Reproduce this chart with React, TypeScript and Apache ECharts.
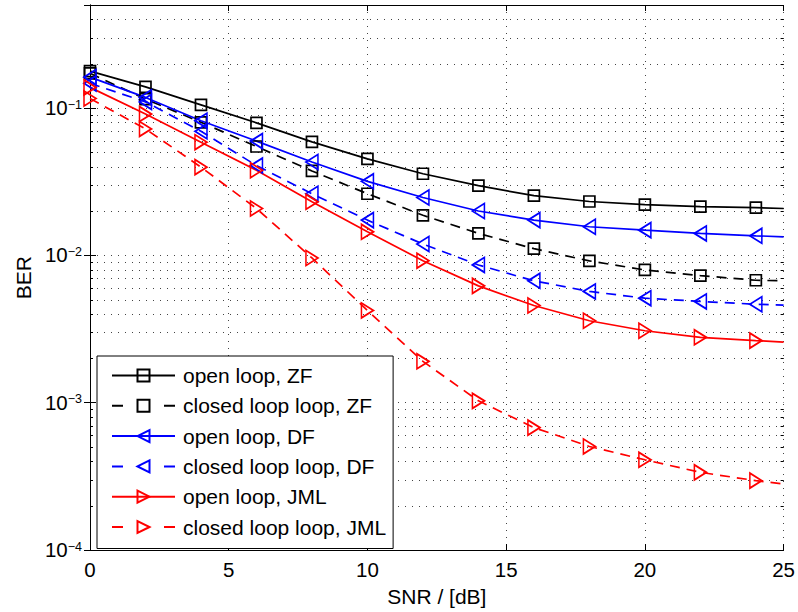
import React, { useEffect, useRef } from "react";
import * as echarts from "echarts";

// SNR points (markers at even values, line continues to 25)
const snr = [0, 2, 4, 6, 8, 10, 12, 14, 16, 18, 20, 22, 24, 25];

const berOpenZF = [0.178, 0.139, 0.105, 0.0793, 0.0589, 0.0452, 0.0358, 0.0297, 0.0254, 0.0232, 0.0221, 0.0214, 0.0211, 0.0208];
const berClosedZF = [0.172, 0.115, 0.08, 0.0548, 0.0374, 0.0262, 0.0187, 0.0141, 0.0111, 0.00917, 0.00796, 0.00729, 0.00678, 0.00672];
const berOpenDF = [0.162, 0.118, 0.082, 0.0596, 0.043, 0.0318, 0.0247, 0.02, 0.01735, 0.01564, 0.01483, 0.01409, 0.01358, 0.01337];
const berClosedDF = [0.147, 0.11, 0.0695, 0.0407, 0.0262, 0.01735, 0.01194, 0.00861, 0.00672, 0.00569, 0.00512, 0.00487, 0.00466, 0.0046];
const berOpenJML = [0.138, 0.091, 0.0586, 0.0378, 0.0231, 0.01445, 0.0092, 0.00621, 0.00457, 0.0036, 0.00308, 0.00278, 0.00264, 0.00258];
const berClosedJML = [0.116, 0.0721, 0.0397, 0.0208, 0.0096, 0.00423, 0.00191, 0.00103, 0.000678, 0.000505, 0.00041, 0.000337, 0.000296, 0.000281];

const seriesNames = [
  "open loop, ZF",
  "closed loop loop, ZF",
  "open loop, DF",
  "closed loop loop, DF",
  "open loop, JML",
  "closed loop loop, JML",
];

// minor (log) grid values
const minorTicks = [
  2e-4, 3e-4, 4e-4, 5e-4, 6e-4, 7e-4, 8e-4, 9e-4,
  2e-3, 3e-3, 4e-3, 5e-3, 6e-3, 7e-3, 8e-3, 9e-3,
  2e-2, 3e-2, 4e-2, 5e-2, 6e-2, 7e-2, 8e-2, 9e-2,
  0.2, 0.3, 0.4,
];

const xTitle = "SNR / [dB]";
const yTitle = "BER";

const FONT = "Liberation Sans, Arial, Helvetica, sans-serif";
const LABEL_SIZE = 20.5;

function toData(vals: number[]) {
  return vals.map((v, i) =>
    snr[i] === 25 ? { value: [snr[i], v], symbol: "none" } : { value: [snr[i], v] }
  );
}

function makeSeries(name: string, vals: number[], color: string, dashed: boolean, symbol: string, rotate: number) {
  const isRect = symbol === "rect";
  return {
    type: "line",
    name,
    data: toData(vals),
    xAxisIndex: 0,
    yAxisIndex: 0,
    symbol,
    symbolSize: isRect ? 11 : [15, 12],
    symbolRotate: rotate,
    showAllSymbol: true,
    lineStyle: { color, width: 1.7, type: dashed ? [10, 7] : "solid" },
    itemStyle: { color: "rgba(0,0,0,0)", borderColor: color, borderWidth: 1.7 },
    emphasis: { disabled: true },
    z: 3,
  };
}

export default function App() {
  const ref = useRef<HTMLDivElement>(null);
  useEffect(() => {
    if (!ref.current) return;
    const chart = echarts.init(ref.current, undefined, { renderer: "svg" });
    const axisLine = { show: true, lineStyle: { color: "#000", width: 1 } };
    const dotted = { show: true, lineStyle: { color: "#444", width: 1, type: [1, 6] } };
    const yFmt = (v: number) => {
      const l = Math.log10(v);
      const e = Math.round(l);
      if (Math.abs(l - e) > 1e-6 || e >= 0) return "";
      return `{b|10}{e|\u2212${-e}}`;
    };
    const option: any = {
      animation: false,
      backgroundColor: "#fff",
      grid: { left: 90, right: 13, top: 5, bottom: 59, containLabel: false },
      xAxis: [
        {
          type: "value",
          min: 0,
          max: 25,
          interval: 5,
          position: "bottom",
          axisLine,
          axisTick: { show: true, inside: true, length: 6, lineStyle: { color: "#000" } },
          axisLabel: { fontSize: LABEL_SIZE, color: "#000", margin: 9, fontFamily: FONT, lineHeight: 21 },
          splitLine: dotted,
          name: xTitle,
          nameLocation: "middle",
          nameGap: 28.5,
          nameTextStyle: { fontSize: 21, color: "#000", lineHeight: 22, fontFamily: FONT },
        },
        {
          type: "value",
          min: 0,
          max: 25,
          interval: 5,
          position: "top",
          axisLine,
          axisTick: { show: true, inside: true, length: 6, lineStyle: { color: "#000" } },
          axisLabel: { show: false },
          splitLine: { show: false },
        },
      ],
      yAxis: [
        {
          type: "log",
          logBase: 10,
          min: 1e-4,
          max: 0.5,
          position: "left",
          axisLine,
          axisTick: { show: true, inside: true, length: 6, lineStyle: { color: "#000" } },
          axisLabel: {
            margin: 8,
            formatter: yFmt,
            rich: {
              b: { fontSize: LABEL_SIZE, fontFamily: FONT, color: "#000", lineHeight: 20, verticalAlign: "bottom" },
              e: { fontSize: 12.5, fontFamily: FONT, color: "#000", lineHeight: 12, verticalAlign: "top", padding: [0, 0, 10, 0] },
            },
          },
          splitLine: dotted,
          name: yTitle,
          nameLocation: "middle",
          nameGap: 55,
          nameTextStyle: { fontSize: 21, color: "#000", lineHeight: 22, fontFamily: FONT },
        },
        {
          type: "log",
          logBase: 10,
          min: 1e-4,
          max: 0.5,
          position: "right",
          axisLine,
          axisTick: { show: true, inside: true, length: 6, lineStyle: { color: "#000" } },
          axisLabel: { show: false },
          splitLine: { show: false },
        },
      ],
      legend: {
        orient: "vertical",
        left: 97,
        top: 356,
        padding: [9, 7, 11, 14],
        itemWidth: 63,
        itemHeight: 15,
        itemGap: 9.3,
        backgroundColor: "#fff",
        borderColor: "#000",
        borderWidth: 1,
        borderRadius: 0,
        selectedMode: false,
        data: seriesNames.map((n, i) =>
          i % 2 === 1 ? { name: n, lineStyle: { type: [11, 41] } } : { name: n }
        ),
        textStyle: { fontSize: 21, color: "#000", fontFamily: FONT, lineHeight: 20, padding: [0, 0, 0, 3] },
      },
      series: [
        {
          type: "custom",
          name: "minor-grid",
          xAxisIndex: 0,
          yAxisIndex: 0,
          silent: true,
          z: 1,
          data: minorTicks.map((v) => [0, v]),
          renderItem: (params: any, api: any) => {
            const cs = params.coordSys;
            const p = api.coord([0, api.value(1)]);
            const y = Math.round(p[1]) + 0.5;
            return {
              type: "group",
              children: [
                { type: "line", shape: { x1: cs.x, y1: y, x2: cs.x + cs.width, y2: y }, style: { stroke: "#444", lineWidth: 1, lineDash: [1, 6] } },
                { type: "line", shape: { x1: cs.x, y1: y, x2: cs.x + 3, y2: y }, style: { stroke: "#000", lineWidth: 1 } },
                { type: "line", shape: { x1: cs.x + cs.width - 3, y1: y, x2: cs.x + cs.width, y2: y }, style: { stroke: "#000", lineWidth: 1 } },
              ],
            };
          },
        },
        makeSeries(seriesNames[0], berOpenZF, "#000000", false, "rect", 0),
        makeSeries(seriesNames[1], berClosedZF, "#000000", true, "rect", 0),
        makeSeries(seriesNames[2], berOpenDF, "#0000ff", false, "triangle", 90),
        makeSeries(seriesNames[3], berClosedDF, "#0000ff", true, "triangle", 90),
        makeSeries(seriesNames[4], berOpenJML, "#ff0000", false, "triangle", -90),
        makeSeries(seriesNames[5], berClosedJML, "#ff0000", true, "triangle", -90),
      ],
    };
    chart.setOption(option);
    return () => chart.dispose();
  }, []);
  return (
    <div
      ref={ref}
      style={{ position: "absolute", left: 0, top: 0, width: 798, height: 612 }}
    />
  );
}
